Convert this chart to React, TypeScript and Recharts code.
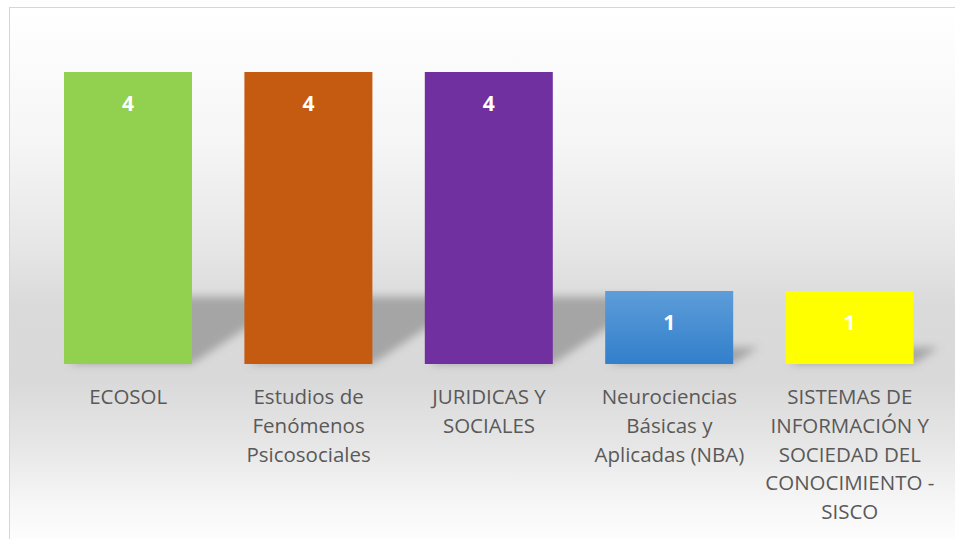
import React from "react";
import { BarChart, Bar, XAxis, YAxis, Cell, LabelList } from "recharts";

const categories = [
  "ECOSOL",
  "Estudios de Fenómenos Psicosociales",
  "JURIDICAS Y SOCIALES",
  "Neurociencias Básicas y Aplicadas (NBA)",
  "SISTEMAS DE INFORMACIÓN Y SOCIEDAD DEL CONOCIMIENTO - SISCO",
];
const values = [4, 4, 4, 1, 1];
const tickLines = [
  ["ECOSOL"],
  ["Estudios de", "Fenómenos", "Psicosociales"],
  ["JURIDICAS Y", "SOCIALES"],
  ["Neurociencias", "Básicas y", "Aplicadas (NBA)"],
  ["SISTEMAS DE", "INFORMACIÓN Y", "SOCIEDAD DEL", "CONOCIMIENTO -", "SISCO"],
];

const BAR_FILLS = ["#92D050", "#C55A11", "#7030A0", "url(#blueGrad)", "#FFFF00"];
const FONT = "'Open Sans', 'Noto Sans', sans-serif";

const data = categories.map((name, i) => ({ name, value: values[i] }));

const BarWithShadow = (props: any) => {
  const { x, y, width, height, index } = props;
  if (height == null || height <= 0) return null;
  const bottom = y + height;
  const h = height * 0.23;
  const skew = h * 1.5;
  const pts = [
    [x + 4, bottom],
    [x + width, bottom],
    [x + width + skew, bottom - h],
    [x + skew, bottom - h],
  ]
    .map((p) => p.join(","))
    .join(" ");
  return (
    <g>
      <polygon points={pts} fill="#7a7a7a" fillOpacity={0.55} filter="url(#shadowBlur)" />
      <rect x={x} y={y} width={width} height={height} fill={BAR_FILLS[index]} />
    </g>
  );
};

const ValueLabel = (props: any) => {
  const { x, y, width, value } = props;
  return (
    <text
      x={x + width / 2}
      y={y + 30.5}
      textAnchor="middle"
      dominantBaseline="central"
      fill="#ffffff"
      fontFamily={FONT}
      fontWeight={700}
      fontSize={21}
    >
      {value}
    </text>
  );
};

const CategoryTick = (props: any) => {
  const { x, y, index } = props;
  const lines = tickLines[index] || [];
  return (
    <text
      x={x}
      y={y}
      textAnchor="middle"
      fill="#595959"
      fontFamily={FONT}
      fontSize={20.5}
    >
      {lines.map((l, i) => (
        <tspan key={i} x={x} y={y + 32 + i * 28.8} dominantBaseline="central">
          {l}
        </tspan>
      ))}
    </text>
  );
};

export default function App() {
  return (
    <div
      style={{
        position: "fixed",
        left: 9,
        top: 7,
        width: 945,
        height: 531,
        borderTop: "1px solid #d6d6d6",
        borderLeft: "1px solid #d6d6d6",
        background:
          "linear-gradient(to bottom, #ffffff 0%, #f6f6f6 25%, #e6e6e6 45%, #dadada 56%, #d9d9d9 70%, #e6e6e6 82%, #f6f6f6 93%, #fdfdfd 100%)",
        overflow: "hidden",
      }}
    >
      <BarChart
        width={945}
        height={531}
        data={data}
        margin={{ top: 64, right: 15, bottom: 0, left: 28 }}
        barCategoryGap="14.5%"
      >
        <defs>
          <filter id="shadowBlur" x="-50%" y="-50%" width="200%" height="200%">
            <feGaussianBlur stdDeviation="4" />
          </filter>
          <linearGradient id="blueGrad" x1="0" y1="0" x2="0" y2="1">
            <stop offset="0%" stopColor="#5D9DD9" />
            <stop offset="100%" stopColor="#327FCB" />
          </linearGradient>
        </defs>
        <XAxis
          dataKey="name"
          axisLine={false}
          tickLine={false}
          tickSize={0}
          tickMargin={0}
          height={175}
          interval={0}
          tick={<CategoryTick />}
        />
        <YAxis hide domain={[0, 4]} />
        <Bar dataKey="value" barSize={128} shape={<BarWithShadow />} isAnimationActive={false}>
          {data.map((d, i) => (
            <Cell key={i} fill={BAR_FILLS[i]} />
          ))}
          <LabelList dataKey="value" content={<ValueLabel />} />
        </Bar>
      </BarChart>
    </div>
  );
}
